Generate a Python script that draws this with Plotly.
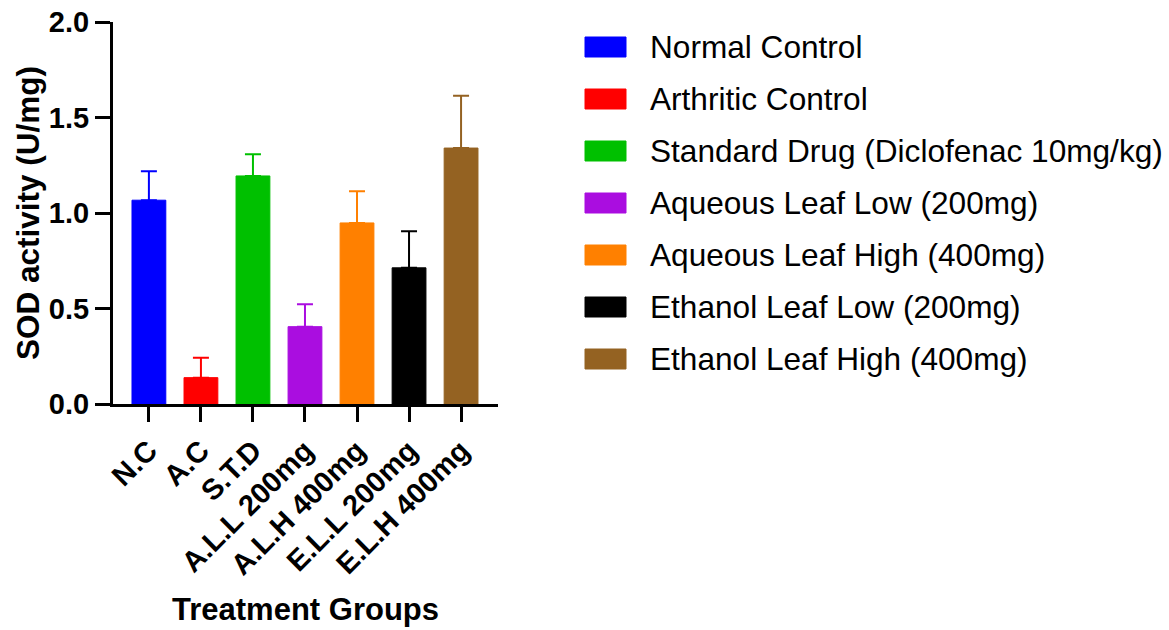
import plotly.graph_objects as go

categories = ["N.C", "A.C", "S.T.D", "A.L.L 200mg", "A.L.H 400mg", "E.L.L 200mg", "E.L.H 400mg"]
group_names = ["Normal Control", "Arthritic Control", "Standard Drug (Diclofenac 10mg/kg)",
               "Aqueous Leaf Low (200mg)", "Aqueous Leaf High (400mg)",
               "Ethanol Leaf Low (200mg)", "Ethanol Leaf High (400mg)"]
sod_mean = [1.067, 0.138, 1.194, 0.405, 0.948, 0.713, 1.34]
sod_err = [0.152, 0.104, 0.114, 0.117, 0.166, 0.192, 0.274]
colors = ["#0000FF", "#FF0000", "#00C000", "#AA0DE0", "#FF8000", "#000000", "#946222"]
y_ticks = [0, 0.5, 1.0, 1.5, 2.0]

W, H = 1169, 630
L, R, T, B = 113, 498, 22, 404  # plot area pixel box

fig = go.Figure()
for i, cat in enumerate(categories):
    fig.add_trace(go.Bar(
        x=[cat], y=[sod_mean[i]], name=group_names[i],
        marker=dict(color=colors[i], line=dict(color=colors[i], width=1)),
        width=0.65,
        error_y=dict(type="data", array=[sod_err[i]], arrayminus=[0], symmetric=False,
                     color=colors[i], thickness=2, width=8),
        showlegend=False,
    ))

FAM = "Liberation Sans, Arial, sans-serif"
font_b = dict(family=FAM, size=29, color="black", weight="bold")

fig.update_layout(
    width=W, height=H,
    margin=dict(l=L, r=W - R, t=T, b=H - B, pad=0),
    plot_bgcolor="white", paper_bgcolor="white",
    bargap=0.35,
    xaxis=dict(
        categoryorder="array", categoryarray=categories,
        range=[-0.69, 6.71], automargin=False,
        showline=True, linecolor="black", linewidth=3,
        ticks="outside", ticklen=15, tickwidth=3, tickcolor="black",
        tickangle=-45, tickfont=font_b,
        showgrid=False, zeroline=False,
    ),
    yaxis=dict(
        range=[0, 2.0], tickvals=y_ticks, tickformat=".1f", automargin=False,
        showline=True, linecolor="black", linewidth=3,
        ticks="outside", ticklen=15, tickwidth=3, tickcolor="black",
        tickfont=font_b, showgrid=False, zeroline=False,
    ),
)

def px_x(px):
    return (px - L) / (R - L)

def px_y(py):
    return (B - py) / (B - T)

# axis titles
fig.add_annotation(text="SOD activity (U/mg)", textangle=-90, showarrow=False,
                   xref="paper", yref="paper", x=px_x(28), y=px_y(213),
                   xanchor="center", yanchor="middle", font=dict(font_b, size=31.5))
fig.add_annotation(text="Treatment Groups", showarrow=False,
                   xref="paper", yref="paper", x=px_x(305), y=px_y(609),
                   xanchor="center", yanchor="middle", font=dict(font_b, size=31))

# legend (manual swatches + labels)
for i, name in enumerate(group_names):
    cy = 47 + 52 * i
    fig.add_shape(type="rect", xref="paper", yref="paper",
                  x0=px_x(585), x1=px_x(626), y0=px_y(cy + 10), y1=px_y(cy - 10),
                  fillcolor=colors[i], line=dict(color=colors[i], width=1))
    fig.add_annotation(text=name, showarrow=False, xref="paper", yref="paper",
                       x=px_x(648), y=px_y(cy), xanchor="left", yanchor="middle",
                       font=dict(family=FAM, size=31.6, color="black"))

fig.write_html("out.html", config={"displayModeBar": False},
               post_script="document.body.style.margin='0';document.body.style.overflow='hidden';")
